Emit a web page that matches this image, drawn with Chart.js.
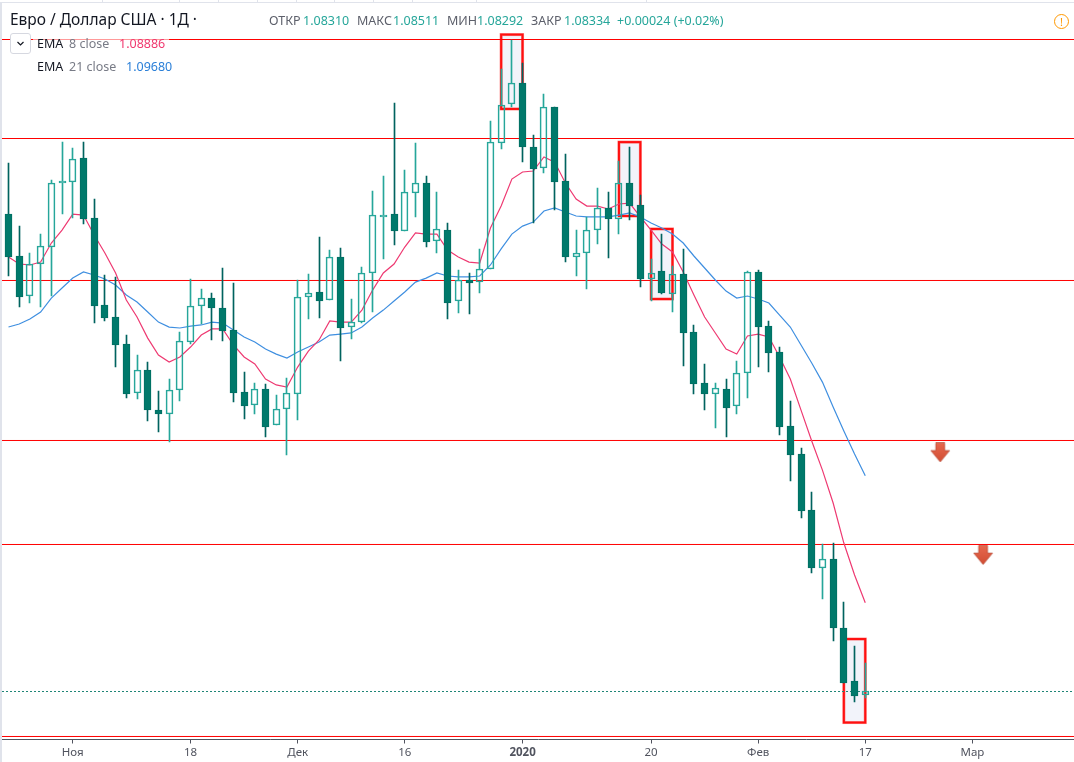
<!DOCTYPE html>
<html lang="ru"><head><meta charset="utf-8">
<script src="https://cdn.jsdelivr.net/npm/chart.js@4"></script>
<style>
html,body{margin:0;padding:0;background:#fff;width:1074px;height:762px;overflow:hidden;font-family:"Noto Sans",sans-serif}
#wrap{position:relative;width:1074px;height:762px}
canvas{display:block;position:absolute;left:0;top:0}
.t{position:absolute;white-space:pre;line-height:16px}
</style></head><body>
<div id="wrap">
<canvas id="c" width="1074" height="762"></canvas>
<div style="position:absolute;left:0;top:2px;width:2px;height:760px;background:#e0e3eb"></div>
<div style="position:absolute;left:0;top:2px;width:1074px;height:1px;background:#e0e3eb"></div>
<div id="hdr"></div>
</div>
<script>
const highs=[1.11634,1.11240,1.11072,1.11190,1.11528,1.11765,1.11728,1.11765,1.11409,1.10934,1.10922,1.10559,1.10434,1.10390,1.10209,1.10284,1.10578,1.10909,1.10847,1.10822,1.10978,1.10884,1.10328,1.10259,1.10253,1.10184,1.10290,1.10903,1.10940,1.11172,1.11090,1.11103,1.10784,1.10984,1.11459,1.11553,1.12009,1.11590,1.11759,1.11553,1.11453,1.11259,1.10965,1.10947,1.11097,1.11897,1.12222,1.12403,1.12259,1.11809,1.12065,1.11984,1.11690,1.11215,1.11297,1.11478,1.11453,1.11647,1.11734,1.11434,1.11034,1.11190,1.10990,1.11097,1.10622,1.10378,1.10259,1.10284,1.10397,1.10959,1.10965,1.10647,1.10484,1.10147,1.09853,1.09578,1.09253,1.09259,1.08890,1.08615,1.08511];
const opens=[1.11316,1.11053,1.10803,1.11003,1.11109,1.11509,1.11515,1.11665,1.11290,1.10747,1.10672,1.10503,1.10197,1.10340,1.10090,1.10065,1.10215,1.10515,1.10740,1.10790,1.10728,1.10590,1.10203,1.10122,1.10222,1.09997,1.10097,1.10190,1.10797,1.10828,1.10778,1.11047,1.10609,1.10640,1.10947,1.11297,1.11315,1.11209,1.11447,1.11509,1.11147,1.11215,1.10772,1.10903,1.10890,1.10972,1.11759,1.12003,1.12134,1.11734,1.11603,1.11984,1.11522,1.11047,1.11072,1.11215,1.11353,1.11284,1.11509,1.11372,1.10909,1.10959,1.10815,1.10940,1.10578,1.10259,1.10190,1.10222,1.10115,1.10322,1.10953,1.10615,1.10453,1.09990,1.09815,1.09465,1.09103,1.09159,1.08728,1.08397,1.08310];
const closes=[1.11047,1.10797,1.11003,1.11115,1.11509,1.11522,1.11659,1.11284,1.10740,1.10665,1.10497,1.10190,1.10340,1.10090,1.10065,1.10215,1.10522,1.10740,1.10790,1.10728,1.10584,1.10197,1.10115,1.10222,1.09984,1.10097,1.10197,1.10797,1.10822,1.10772,1.11047,1.10603,1.10640,1.10947,1.11309,1.11309,1.11209,1.11453,1.11509,1.11140,1.11222,1.10759,1.10903,1.10884,1.10972,1.11765,1.11997,1.12134,1.11734,1.11597,1.11984,1.11515,1.11047,1.11072,1.11215,1.11353,1.11284,1.11509,1.11365,1.10909,1.10947,1.10822,1.10940,1.10572,1.10253,1.10190,1.10228,1.10103,1.10322,1.10953,1.10609,1.10447,1.09984,1.09809,1.09459,1.09103,1.09159,1.08728,1.08384,1.08303,1.08334];
const lows=[1.10928,1.10734,1.10759,1.10734,1.10803,1.11316,1.11290,1.11253,1.10634,1.10647,1.10359,1.10165,1.10159,1.10022,1.09953,1.09890,1.10147,1.10503,1.10628,1.10528,1.10522,1.10140,1.10034,1.10065,1.09922,1.09997,1.09809,1.10028,1.10659,1.10665,1.10778,1.10397,1.10534,1.10634,1.10703,1.11034,1.11122,1.11209,1.11297,1.11109,1.11072,1.10659,1.10697,1.10690,1.10822,1.10972,1.11722,1.11984,1.11640,1.11259,1.11572,1.11340,1.11015,1.10928,1.10847,1.11128,1.11040,1.11190,1.11278,1.10859,1.10772,1.10815,1.10703,1.10365,1.10190,1.10090,1.09978,1.09922,1.10065,1.10165,1.10359,1.10328,1.09934,1.09647,1.09415,1.09072,1.08909,1.08647,1.08384,1.08265,1.08292];
const ema8=[1.11047,1.11003,1.10997,1.11015,1.11134,1.11215,1.11315,1.11309,1.11184,1.11072,1.10947,1.10778,1.10672,1.10540,1.10434,1.10390,1.10422,1.10484,1.10559,1.10597,1.10597,1.10497,1.10422,1.10378,1.10284,1.10247,1.10234,1.10359,1.10459,1.10528,1.10647,1.10640,1.10640,1.10715,1.10840,1.10947,1.11003,1.11109,1.11197,1.11190,1.11190,1.11090,1.11047,1.11015,1.11009,1.11228,1.11365,1.11534,1.11578,1.11584,1.11672,1.11640,1.11509,1.11409,1.11365,1.11365,1.11347,1.11378,1.11384,1.11297,1.11215,1.11128,1.11078,1.10953,1.10809,1.10672,1.10572,1.10472,1.10440,1.10553,1.10565,1.10547,1.10422,1.10284,1.10090,1.09897,1.09715,1.09509,1.09259,1.09059,1.08886];
const ema21=[1.10609,1.10628,1.10659,1.10703,1.10790,1.10853,1.10915,1.10953,1.10934,1.10909,1.10872,1.10809,1.10765,1.10703,1.10640,1.10609,1.10603,1.10615,1.10622,1.10640,1.10634,1.10590,1.10547,1.10515,1.10472,1.10440,1.10415,1.10453,1.10484,1.10515,1.10559,1.10565,1.10572,1.10609,1.10665,1.10715,1.10772,1.10828,1.10890,1.10915,1.10947,1.10928,1.10922,1.10922,1.10928,1.10997,1.11097,1.11190,1.11240,1.11265,1.11334,1.11353,1.11328,1.11303,1.11297,1.11297,1.11297,1.11309,1.11322,1.11297,1.11259,1.11228,1.11190,1.11134,1.11053,1.10978,1.10903,1.10834,1.10790,1.10803,1.10784,1.10759,1.10684,1.10609,1.10497,1.10384,1.10265,1.10109,1.09959,1.09815,1.09680];
const levels=[1.124061,1.117874,1.108999,1.098999,1.092499,1.080499];
const lastClose=1.083311;
const tickIndex=[6,17,27,37,48,60,70,80,90];
const tickLabels=["Ноя","18","Дек","16","2020","20","Фев","17","Мар"];
const rectStart=[46,57,60,78];
const rectEnd=[48,59,62,80];
const rectTop=[1.12437,1.11765,1.11222,1.08659];
const rectBottom=[1.11972,1.11303,1.10784,1.08137];
const arrowIndex=[87,91];
const arrowPrice=[1.09825,1.09184];

const xMin=-0.607, xMax=99.49, yMin=1.080311, yMax=1.126343;
const C_UP='#26a69a', C_DN='#00796b', C_WICK='#00635f', C_RED='#ff0000';

const idx=highs.map((_,i)=>i);
const ups=idx.filter(i=>closes[i]>=opens[i]);
const dns=idx.filter(i=>closes[i]<opens[i]);

function arrowImg(){
  const cv=document.createElement('canvas');cv.width=21;cv.height=20;
  const g=cv.getContext('2d');
  const gr=g.createLinearGradient(0,0,0,20);gr.addColorStop(0,'#e8694f');gr.addColorStop(1,'#d04d33');
  g.beginPath();g.moveTo(6,.5);g.lineTo(15,.5);g.lineTo(15,8);g.lineTo(20,8);g.lineTo(10.5,19.5);g.lineTo(1,8);g.lineTo(6,8);g.closePath();
  g.fillStyle=gr;g.fill();g.strokeStyle='rgba(170,60,40,.55)';g.lineWidth=1;g.stroke();
  return cv;
}
const bar=(data,color,thick,extra)=>Object.assign({type:'bar',data,grouped:false,barThickness:thick,backgroundColor:color,borderWidth:0,borderSkipped:false},extra||{});
const line=(data,color,w,extra)=>Object.assign({type:'line',data,borderColor:color,borderWidth:w,pointRadius:0,tension:0,fill:false,order:5},extra||{});
const hline=v=>line([{x:xMin,y:v},{x:xMax,y:v}],C_RED,1);

const rectsPlugin={id:'rects',beforeDatasetsDraw(ch){
  const {ctx,scales:{x,y}}=ch;ctx.save();
  rectStart.forEach((s,i)=>{
    const l=x.getPixelForValue(s),r=x.getPixelForValue(rectEnd[i]),t=y.getPixelForValue(rectTop[i]),b=y.getPixelForValue(rectBottom[i]);
    ctx.fillStyle='#f2f3fa';ctx.fillRect(l,t,r-l,b-t);
    ctx.strokeStyle='rgba(255,0,0,.45)';ctx.lineWidth=3;ctx.strokeRect(l,t,r-l,b-t);
    ctx.strokeStyle='#ff1010';ctx.lineWidth=2;ctx.strokeRect(l,t,r-l,b-t);
  });ctx.restore();
}};
const snapPlugin={id:'snap',afterDatasetsUpdate(ch){
  ch.getSortedVisibleDatasetMetas().forEach(m=>{
    if(m.type!=='bar')return;
    m.data.forEach(el=>{
      el.x=Math.round(el.x-.5)+.5;el.y=Math.round(el.y);el.base=Math.round(el.base);el.height=el.base-el.y;
    });
  });
}};

new Chart(document.getElementById('c'),{
  type:'line',
  data:{datasets:[
    bar(ups.map(i=>({x:i,y:[opens[i],closes[i]]})),'rgba(0,0,0,0)',7,{borderWidth:1,borderColor:C_UP,order:1}),
    bar(dns.map(i=>({x:i,y:[opens[i],closes[i]]})),C_DN,7,{borderWidth:1,borderColor:'#006f63',order:1}),
    bar(ups.map(i=>({x:i,y:[closes[i],highs[i]]})),C_UP,1,{order:2}),
    bar(ups.map(i=>({x:i,y:[lows[i],opens[i]]})),C_UP,1,{order:2}),
    bar(dns.map(i=>({x:i,y:[lows[i],highs[i]]})),C_WICK,1,{order:2}),
    line(ema8.map((v,i)=>({x:i,y:v})),'#ee3a72',1.2),
    line(ema21.map((v,i)=>({x:i,y:v})),'#3f8fe0',1.2),
    ...levels.map(hline),
    line([{x:xMin,y:lastClose},{x:xMax,y:lastClose}],'#1f8577',1,{borderDash:[2,2]}),
    {type:'line',showLine:false,data:arrowIndex.map((v,i)=>({x:v,y:arrowPrice[i]})),pointStyle:arrowImg(),pointRadius:10,order:0}
  ]},
  options:{
    responsive:false,animation:false,devicePixelRatio:1,events:[],
    layout:{autoPadding:false,padding:{left:2,right:0,top:3,bottom:0}},
    plugins:{legend:{display:false},tooltip:{enabled:false}},
    scales:{
      x:{type:'linear',min:xMin,max:xMax,offset:false,
        afterBuildTicks(s){s.ticks=tickIndex.map(v=>({value:v}));},
        afterFit(s){s.height=22.5;},
        border:{display:true,color:'#50535e',width:1},
        grid:{offset:false,drawOnChartArea:false,drawTicks:true,tickLength:4,tickColor:'#50535e'},
        ticks:{autoSkip:false,maxRotation:0,padding:2,color:'#50535e',
          font:c=>({family:'"Noto Sans"',size:11.5,weight:c.tick&&tickLabels[tickIndex.indexOf(c.tick.value)]==='2020'?'bold':'normal'}),
          callback:v=>tickLabels[tickIndex.indexOf(v)]}},
      y:{display:false,min:yMin,max:yMax}
    }
  },
  plugins:[rectsPlugin,snapPlugin]
});

const H=document.getElementById('hdr');
const put=(x,cy,txt,col,sz,extra)=>{const d=document.createElement('div');d.className='t';d.textContent=txt;
  d.style.cssText+=`left:${x}px;top:${cy-8}px;color:${col};font-size:${sz}px;`+(extra||'');H.appendChild(d);};
[102,179,218,257,296,334,373,412,476,646].forEach(x=>{const d=document.createElement('div');d.style.cssText=`position:absolute;left:${x}px;top:0;width:1px;height:3px;background:#e0e3eb`;H.appendChild(d);});
put(10,19,'Евро / Доллар США · 1Д ·','#131722',15.5);
const L='#5d606b',V='#26a69a';
put(269,21,'ОТКР',L,12.5);put(303,21,'1.08310',V,12.5);
put(357,21,'МАКС',L,12.5);put(393,21,'1.08511',V,12.5);
put(447,21,'МИН',L,12.5);put(477,21,'1.08292',V,12.5);
put(531,21,'ЗАКР',L,12.5);put(564,21,'1.08334',V,12.5);
put(617,21,'+0.00024 (+0.02%)',V,12.5);
const bg=document.createElement('div');bg.style.cssText='position:absolute;left:33px;top:33px;width:136px;height:22px;background:rgba(255,255,255,.6)';H.appendChild(bg);
put(37,44,'EMA','#131722',12.5);put(69,44,'8 close','#787b86',12.5);put(119,44,'1.08886','#f0386f',12.5);
put(37,67,'EMA','#131722',12.5);put(69,67,'21 close','#787b86',12.5);put(126,67,'1.09680','#2a7fd8',12.5);
const btn=document.createElement('div');btn.style.cssText='position:absolute;left:10px;top:33px;width:19px;height:19px;background:#fff;border:1px solid #d6d8e0;border-radius:3px;box-sizing:content-box';
btn.innerHTML='<svg width="19" height="19"><path d="M6.5 8 L9.5 11 L12.5 8" fill="none" stroke="#131722" stroke-width="1.2"/></svg>';H.appendChild(btn);
const al=document.createElement('div');al.style.cssText='position:absolute;left:1054px;top:14px;width:13px;height:13px;border:1.3px solid #ff9800;border-radius:50%;color:#ff9800;font-size:11px;line-height:13px;text-align:center';al.textContent='!';H.appendChild(al);
</script>
</body></html>
